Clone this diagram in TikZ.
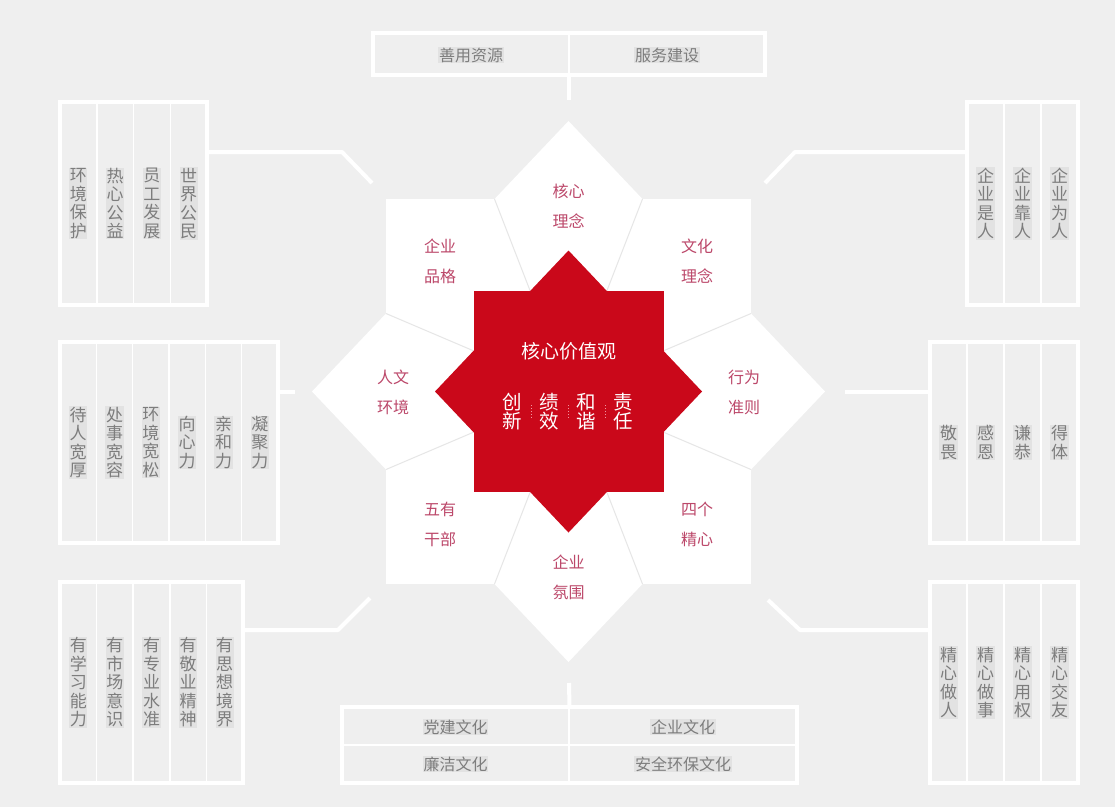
\documentclass[tikz,border=0pt]{standalone}
\usepackage{fontspec}
\setmainfont{Noto Sans CJK SC}
\usetikzlibrary{calc}
\definecolor{bg}{RGB}{239,239,239}
\definecolor{hl}{RGB}{226,226,226}
\definecolor{tgrey}{RGB}{125,125,125}
\definecolor{starred}{RGB}{202,8,26}
\definecolor{pk}{RGB}{188,72,106}
\definecolor{petalline}{RGB}{230,230,230}
\definecolor{sepc}{RGB}{240,150,160}
\tikzset{
  boxst/.style={draw=white, line width=3.5pt, rectangle, inner sep=0pt, outer sep=0pt},
  divst/.style={draw=white, line width=1.5pt},
  vst/.style={fill=hl, text=tgrey, inner sep=0.6pt, align=center, font=\fontsize{17}{18.5}\selectfont},
  hst/.style={fill=hl, text=tgrey, inner sep=0.6pt, font=\fontsize{16}{18}\selectfont},
  conn/.style={draw=white, line width=4pt, line join=round},
  pl/.style={text=pk, align=center, inner sep=0pt, font=\fontsize{16}{30}\selectfont},
  ctr/.style={text=white, align=center, inner sep=0pt},
  sepdots/.style={draw=sepc, line width=0.9pt, dotted},
  plin/.style={draw=petalline, line width=1pt}
}
\newcommand\colbox[7]{%
  \node[boxst, minimum width={#4-#2}, minimum height={#5-#3}] (#1) at ({(#2+#4)/2},{(#3+#5)/2}) {};
  \pgfmathsetmacro\cw{(#4-#2)/#6}
  \foreach \t [count=\i] in {#7} {
    \pgfmathsetmacro\cx{#2+(\i-0.5)*\cw}
    \node[vst] (#1-\i) at (\cx,{(#3+#5)/2}) {\t};
  }
  \foreach \i in {2,...,#6} {
    \pgfmathsetmacro\dx{#2+(\i-1)*\cw}
    \draw[divst] (\dx,#3) -- (\dx,#5);
  }
}
\begin{document}
\begin{tikzpicture}[x=1pt,y=-1pt]
\fill[bg] (0,0) rectangle (1115,807);
\useasboundingbox (0,0) rectangle (1115,807);

% white star (petals)
\fill[white] (386,199) rectangle (751,584);
\fill[white] (568.5,121) -- (825,391.5) -- (568.5,662) -- (312,391.5) -- cycle;

% petal dividers
\coordinate (w1) at (494.5,199);   \coordinate (r1) at (530.2,291);
\coordinate (w2) at (642.5,199);   \coordinate (r2) at (606.8,291);
\coordinate (w3) at (751,313.5);   \coordinate (r3) at (663.5,350.8);
\coordinate (w4) at (751,469.5);   \coordinate (r4) at (663.5,432.2);
\coordinate (w5) at (642.5,584);   \coordinate (r5) at (606.8,492);
\coordinate (w6) at (494.5,584);   \coordinate (r6) at (530.2,492);
\coordinate (w7) at (386,469.5);   \coordinate (r7) at (473.5,432.2);
\coordinate (w8) at (386,313.5);   \coordinate (r8) at (473.5,350.8);
\foreach \k in {1,...,8} \draw[plin] (w\k) -- (r\k);

% red star
\fill[starred] (473.5,291) rectangle (663.5,492);
\fill[starred] (568.5,250.5) -- (702,391.5) -- (568.5,532.5) -- (435,391.5) -- cycle;

% centre texts
\node[ctr, font=\fontsize{19}{19}\selectfont] (title) at (568.5,351) {核心价值观};
\node[ctr, font=\fontsize{19.5}{19}\selectfont] (v1) at (512.5,411.5) {创\\新};
\node[ctr, font=\fontsize{19.5}{19}\selectfont] (v2) at (549,411.5) {绩\\效};
\node[ctr, font=\fontsize{19.5}{19}\selectfont] (v3) at (586,411.5) {和\\谐};
\node[ctr, font=\fontsize{19.5}{19}\selectfont] (v4) at (623,411.5) {责\\任};
\draw[sepdots] (531.5,405) -- (531.5,418);
\draw[sepdots] (568.5,405) -- (568.5,418);
\draw[sepdots] (605.5,405) -- (605.5,418);

% petal labels
\node[pl] (p1) at (568.5,206.5) {核心\\理念};
\node[pl] (p2) at (697,261) {文化\\理念};
\node[pl] (p3) at (744,392.5) {行为\\准则};
\node[pl] (p4) at (697,524.5) {四个\\精心};
\node[pl] (p5) at (568.5,577.5) {企业\\氛围};
\node[pl] (p6) at (440,524.5) {五有\\干部};
\node[pl] (p7) at (393,392.5) {人文\\环境};
\node[pl] (p8) at (440,261) {企业\\品格};

% side boxes
\colbox{tl}{60}{102}{207}{305}{4}{{环\\境\\保\\护},{热\\心\\公\\益},{员\\工\\发\\展},{世\\界\\公\\民}}
\colbox{tr}{967}{102}{1078}{305}{3}{{企\\业\\是\\人},{企\\业\\靠\\人},{企\\业\\为\\人}}
\colbox{ml}{60}{342}{278}{543}{6}{{待\\人\\宽\\厚},{处\\事\\宽\\容},{环\\境\\宽\\松},{向\\心\\力},{亲\\和\\力},{凝\\聚\\力}}
\colbox{mr}{930}{342}{1078}{543}{4}{{敬\\畏},{感\\恩},{谦\\恭},{得\\体}}
\colbox{bl}{60}{582}{243}{783}{5}{{有\\学\\习\\能\\力},{有\\市\\场\\意\\识},{有\\专\\业\\水\\准},{有\\敬\\业\\精\\神},{有\\思\\想\\境\\界}}
\colbox{br}{930}{582}{1078}{783}{4}{{精\\心\\做\\人},{精\\心\\做\\事},{精\\心\\用\\权},{精\\心\\交\\友}}

% top box
\node[boxst, minimum width=392, minimum height=42] (topbox) at (569,54) {};
\draw[divst] (topbox.north) -- (topbox.south);
\node[hst] (t1) at (471,55) {善用资源};
\node[hst] (t2) at (667,55) {服务建设};

% bottom box
\node[boxst, minimum width=455, minimum height=76] (botbox) at (569.5,745) {};
\draw[divst] (569,707) -- (569,783);
\draw[divst] (botbox.west) -- (botbox.east);
\node[hst] (b1) at (455.5,727) {党建文化};
\node[hst] (b2) at (683,727) {企业文化};
\node[hst] (b3) at (455.5,764) {廉洁文化};
\node[hst] (b4) at (683,764) {安全环保文化};

% connectors
\coordinate (topA) at (569,100);
\coordinate (botA) at (569,683);
\coordinate (tlA) at (342,152); \coordinate (tlB) at (372,183);
\coordinate (trA) at (795,152); \coordinate (trB) at (765,183);
\coordinate (mlA) at (295,392);
\coordinate (mrA) at (845,392);
\coordinate (blA) at (338,630); \coordinate (blB) at (370,598);
\coordinate (brA) at (800,630); \coordinate (brB) at (768,600);

\draw[conn] (topbox.south) -- (topA);
\draw[conn] (botA) -- (botbox.north);
\draw[conn] (tl.east |- tlA) -- (tlA) -- (tlB);
\draw[conn] (trB) -- (trA) -- (tr.west |- trA);
\draw[conn] (ml.east |- mlA) -- (mlA);
\draw[conn] (mrA) -- (mr.west |- mrA);
\draw[conn] (bl.east |- blA) -- (blA) -- (blB);
\draw[conn] (brB) -- (brA) -- (br.west |- brA);
\end{tikzpicture}
\end{document}
